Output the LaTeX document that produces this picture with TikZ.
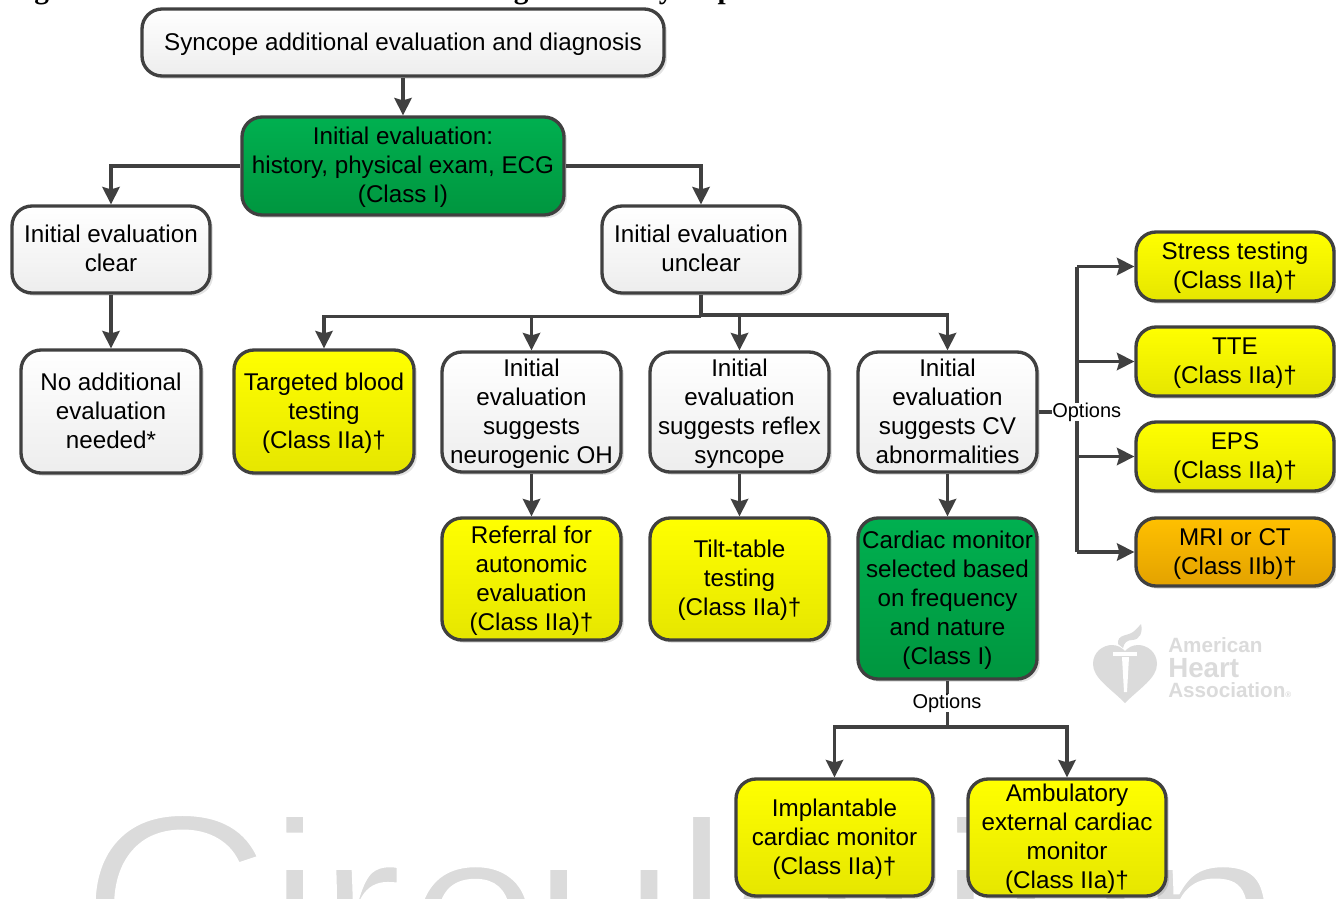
\documentclass[tikz,border=0pt]{standalone}
\usepackage{fontspec}
\setmainfont{Liberation Sans}
\newfontfamily\ttlfont{Liberation Serif}
\usetikzlibrary{arrows.meta,shadows,calc}
\definecolor{ln}{HTML}{404040}
\definecolor{wm}{HTML}{DBDBDB}
\definecolor{gt}{HTML}{00B050}
\definecolor{gb}{HTML}{00963F}
\definecolor{ot}{HTML}{FFC000}
\definecolor{ob}{HTML}{E3A200}
\definecolor{yb}{HTML}{E6E600}
\tikzset{
  x=0.75pt,y=-0.75pt,
  box/.style={draw=ln,line width=2.5pt,rounded corners=15pt,align=center,inner sep=0pt,
    font=\fontsize{18.15}{21.75}\selectfont,text=black,
    drop shadow={shadow xshift=2.2pt,shadow yshift=-2.2pt,fill=black,opacity=.11}},
  gbox/.style={box,top color=white,bottom color=black!7},
  ybox/.style={box,top color=yellow,bottom color=yb},
  obox/.style={box,top color=ot,bottom color=ob},
  ebox/.style={box,top color=gt,bottom color=gb},
  ln/.style={draw=ln,line width=2.5pt,line join=miter},
  arr/.style={ln,-{Stealth[length=13pt,width=13pt,inset=1.8pt]}},
  opt/.style={fill=white,inner sep=0pt,font=\fontsize{15}{18}\selectfont,text=black},
}
\newcommand{\bx}[7]{\node[#1,minimum width=#5*.75pt-#3*.75pt,minimum height=#6*.75pt-#4*.75pt] (#2) at ({(#3+#5)/2},{(#4+#6)/2}) {\rule{0pt}{16.6pt}#7\rule[-5.2pt]{0pt}{5.2pt}};}
\newcommand{\kp}[1]{\kern #1\dimexpr 0.75pt\relax}
\begin{document}
\begin{tikzpicture}
\useasboundingbox (0,0) rectangle (1336,899);
\fill[white] (0,0) rectangle (1336,899);
% title, clipped by the page edge
\node[anchor=base west,inner sep=0pt,font=\ttlfont\bfseries\fontsize{22}{26}\selectfont] (title) at (8,-1) {Figure 2. Additional Evaluation and Diagnosis for Syncope};
% watermark: thinned by a white outline
\node[anchor=base west,inner sep=0pt,text=wm,font=\fontsize{202.5}{240}\selectfont] (wmark) at (78,1009) {\special{pdf:code 2 Tr 1 1 1 RG 5.25 w}\raisebox{6pt}{C}\kp{-8.5}i\kp{-10}r\kp{-1.5}c\kp{-9}u\kp{-8}l\kp{-10}a\kp{-10}t\kp{-1}i\kern0pt o\kp{-10}n\special{pdf:code 0 Tr}};
% logo
\fill[wm] (1125,703) .. controls (1110,688) and (1093,678) .. (1093,664) .. controls (1093,652) and (1103,645) .. (1112,645) .. controls (1118,645) and (1122,648) .. (1125,651) .. controls (1128,648) and (1132,645) .. (1138,645) .. controls (1147,645) and (1157,652) .. (1157,664) .. controls (1157,678) and (1140,688) .. (1125,703) -- cycle;
\fill[wm] (1118,644) .. controls (1117,634) and (1128,636) .. (1133,632) .. controls (1137,629) and (1139,626) .. (1141,624) .. controls (1143,632) and (1140,640) .. (1132,640) .. controls (1127,640) and (1124,643) .. (1123,648) -- cycle;
\fill[white] (1113,652) rectangle (1137,655.5);
\fill[white] (1122,657) -- (1129,657) -- (1127,692) -- (1124,692) -- cycle;
\node[anchor=base west,inner sep=0pt,text=wm,font=\bfseries\fontsize{15.5}{18}\selectfont] (la) at (1168,652) {American};
\node[anchor=base west,inner sep=0pt,text=wm,font=\bfseries\fontsize{20.8}{24}\selectfont] (lh) at (1168,677) {Heart};
\node[anchor=base west,inner sep=0pt,text=wm,font=\bfseries\fontsize{15.5}{18}\selectfont] (ls) at (1168,697) {Association{\fontsize{6}{6}\selectfont®}};
% boxes
\bx{gbox}{top}{142}{9}{664}{76}{Syncope additional evaluation and diagnosis}
\bx{ebox}{init}{242}{117}{564}{215}{Initial evaluation:\\history, physical exam, ECG\\(Class I)}
\bx{gbox}{clear}{12}{206}{210}{293}{Initial evaluation\\clear}
\bx{gbox}{unclear}{602}{206}{800}{293}{Initial evaluation\\unclear}
\bx{gbox}{none}{21}{350}{201}{473}{No additional\\evaluation\\needed*}
\bx{ybox}{blood}{234}{350}{414}{473}{Targeted blood\\testing\\(Class IIa)†}
\bx{gbox}{oh}{442}{352}{621}{472}{Initial\\evaluation\\suggests\\neurogenic OH}
\bx{gbox}{reflex}{650}{352}{829}{472}{Initial\\evaluation\\suggests reflex\\syncope}
\bx{gbox}{cv}{858}{352}{1037}{472}{Initial\\evaluation\\suggests CV\\abnormalities}
\bx{ybox}{auto}{442}{518}{621}{640}{Referral for\\autonomic\\evaluation\\(Class IIa)†}
\bx{ybox}{tilt}{650}{518}{829}{640}{Tilt-table\\testing\\(Class IIa)†}
\bx{ebox}{mon}{858}{518}{1037}{679}{Cardiac monitor\\selected based\\on frequency\\and nature\\(Class I)}
\bx{ybox}{impl}{736}{779}{933}{896}{Implantable\\cardiac monitor\\(Class IIa)†}
\bx{ybox}{amb}{968}{779}{1166}{896}{Ambulatory\\external cardiac\\monitor\\(Class IIa)†}
\bx{ybox}{stress}{1136}{232}{1334}{301}{Stress testing\\(Class IIa)†}
\bx{ybox}{tte}{1136}{327}{1334}{396}{TTE\\(Class IIa)†}
\bx{ybox}{eps}{1136}{422}{1334}{491}{EPS\\(Class IIa)†}
\bx{obox}{mri}{1136}{518}{1334}{586}{MRI or CT\\(Class IIb)†}
% junction coordinates
\coordinate (busa) at (0,316.5);
\coordinate (busc) at (0,315);
\coordinate (busb) at (0,727);
\coordinate (trunk) at (1077,0);
% connectors
\draw[arr] (top.south) -- (init.north);
\draw[arr] (init.west) -| (clear.north);
\draw[arr] (init.east) -| (unclear.north);
\draw[arr] (clear.south) -- (none.north);
\draw[ln] (unclear.south) -- (unclear.south |- busa);
\draw[arr] (unclear.south |- busa) -| (blood.north);
\draw[arr] (unclear.south |- busa) -| (oh.north);
\draw[arr] (unclear.south |- busc) -| (reflex.north);
\draw[arr] (unclear.south |- busc) -| (cv.north);
\draw[arr] (oh.south) -- (auto.north);
\draw[arr] (reflex.south) -- (tilt.north);
\draw[arr] (cv.south) -- (mon.north);
% options on the right
\draw[ln] (trunk |- stress.east) -- (trunk |- mri.east);
\draw[arr] (trunk |- stress.east) -- (stress.west);
\draw[arr] (trunk |- tte.east) -- (tte.west);
\draw[arr] (trunk |- eps.east) -- (eps.west);
\draw[arr] (trunk |- mri.east) -- (mri.west);
\node[opt,anchor=west] (optr) at (1052,412) {Options};
\draw[ln] (cv.east |- optr.west) -- (optr.west);
% options below
\draw[ln] (mon.south) -- (mon.south |- busb);
\draw[arr] (mon.south |- busb) -| (impl.north);
\draw[arr] (mon.south |- busb) -| (amb.north);
\node[opt] (optb) at (947,703) {Options};
\end{tikzpicture}
\end{document}
